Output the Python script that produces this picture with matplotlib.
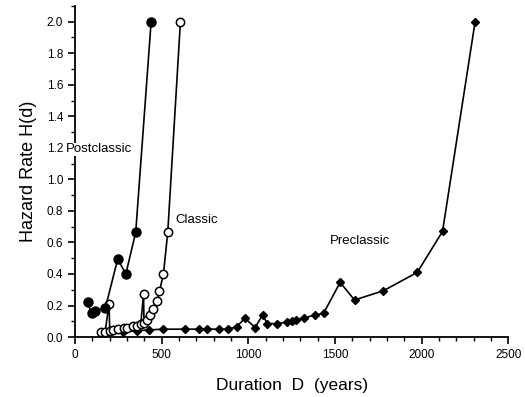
import matplotlib
matplotlib.use("Agg")
import matplotlib.pyplot as plt
from matplotlib.ticker import MultipleLocator

# Hazard rate by duration for the three periods
post_d = [72, 95, 115, 175, 246, 293, 350, 439]
post_h = [0.22, 0.15, 0.165, 0.185, 0.495, 0.40, 0.665, 2.0]

classic_d = [148, 173, 196, 200, 217, 246, 280, 298, 337, 360, 379, 395, 398,
             414, 433, 452, 475, 487, 510, 535, 608]
classic_h = [0.03, 0.03, 0.21, 0.04, 0.045, 0.05, 0.055, 0.06, 0.07, 0.07, 0.08,
             0.27, 0.09, 0.11, 0.14, 0.18, 0.23, 0.29, 0.40, 0.665, 2.0]

pre_d = [200, 279, 356, 427, 506, 635, 718, 764, 833, 882, 933, 980, 1039, 1082,
         1110, 1164, 1226, 1251, 1274, 1322, 1382, 1434, 1530, 1613, 1780, 1975,
         2121, 2309]
pre_h = [0.03, 0.035, 0.04, 0.045, 0.05, 0.05, 0.05, 0.05, 0.05, 0.05, 0.065,
         0.12, 0.06, 0.14, 0.085, 0.085, 0.095, 0.10, 0.11, 0.12, 0.14, 0.15,
         0.347, 0.235, 0.294, 0.41, 0.67, 2.0]

plt.rcParams['font.family'] = ['Liberation Sans', 'DejaVu Sans']

fig = plt.figure(figsize=(5.25, 3.97), dpi=100)
ax = fig.add_axes([0.143, 0.151, 0.825, 0.834])

ax.plot(pre_d, pre_h, color='black', lw=1.2, marker='D', ms=4.5,
        mfc='black', mec='black', zorder=2)
ax.plot(classic_d, classic_h, color='black', lw=1.2, marker='o', ms=6,
        mfc='white', mec='black', mew=1.1, zorder=3)
ax.plot(post_d, post_h, color='black', lw=1.2, marker='o', ms=6.5,
        mfc='black', mec='black', zorder=4)

ax.set_xlim(0, 2500)
ax.set_ylim(0, 2.1)
ax.xaxis.set_major_locator(MultipleLocator(500))
ax.xaxis.set_minor_locator(MultipleLocator(100))
ax.yaxis.set_major_locator(MultipleLocator(0.2))
ax.yaxis.set_minor_locator(MultipleLocator(0.1))
ax.yaxis.set_major_formatter(matplotlib.ticker.FormatStrFormatter('%.1f'))
ax.tick_params(which='major', direction='out', length=5, width=1.2, labelsize=8.5)
ax.tick_params(which='minor', direction='out', length=3, width=1.0)

for s in ['top', 'right']:
    ax.spines[s].set_visible(False)
for s in ['left', 'bottom']:
    ax.spines[s].set_linewidth(1.3)

ax.set_xlabel('Duration  D  (years)', fontsize=12.5, labelpad=12)
ax.set_ylabel('Hazard Rate H(d)', fontsize=13, labelpad=7)

ax.text(-52, 1.19, 'Postclassic', fontsize=9.5, va='center', ha='left',
        clip_on=False, zorder=6,
        bbox=dict(facecolor='white', edgecolor='none', pad=0.5))
ax.text(577, 0.74, 'Classic', fontsize=9.5, va='center', ha='left')
ax.text(1472, 0.61, 'Preclassic', fontsize=9.5, va='center', ha='left')

fig.savefig('out.png', dpi=100)
